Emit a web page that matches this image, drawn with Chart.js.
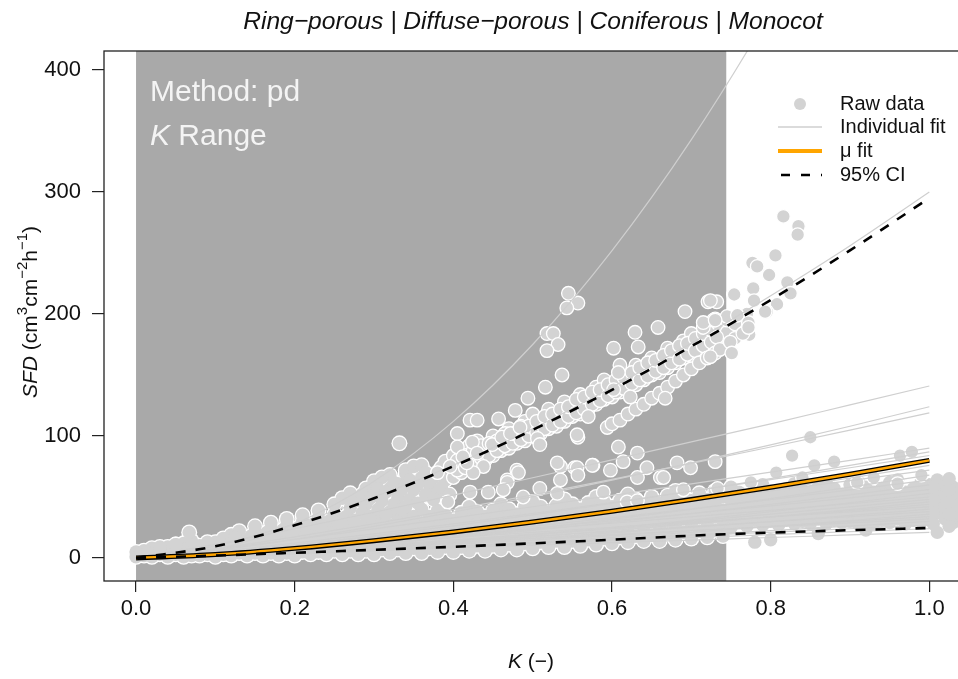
<!DOCTYPE html>
<html><head><meta charset="utf-8">
<script src="https://cdn.jsdelivr.net/npm/chart.js@4"></script>
<style>
html,body{margin:0;padding:0;overflow:hidden;background:#fff;}
#wrap{position:absolute;left:0;top:0;width:980px;height:679px;}
</style></head><body>
<div id="wrap"><canvas id="c" width="980" height="679" style="width:980px;height:679px"></canvas></div>
<script>
// ---------- data ----------
const xTicks = [0, 0.2, 0.4, 0.6, 0.8, 1.0];
const yTicks = [0, 100, 200, 300, 400];
const kRange = [0, 0.744];
const fitK = [0, 0.1, 0.2, 0.3, 0.4, 0.5, 0.6, 0.7, 0.8, 0.9, 1.0];
const muFit = [0, 2.9, 7.9, 14.2, 21.4, 29.5, 38.3, 47.9, 58, 68.7, 80];
const ciUpper = [0, 9.6, 26.8, 49, 75.2, 105, 137.8, 173.5, 211.5, 252.2, 295];
const ciLower = [0, 2, 4.3, 6.7, 9.2, 12, 15, 18.3, 20.8, 22.8, 24.6];
const individualFits = [
 [0,7,28,63,112,175,252,343,448,567,700],
 [0,10,28,50,76,106,140,176,215,256,300],
 [0,11.2,24,37.5,51.5,65.8,80.4,95.2,110,125.5,141],
 [0,6.2,15.3,25.9,37.7,50.3,63.9,78,92.8,108,124],
 [0,7.5,17.3,28.1,39.6,51.8,64.5,77.6,91,104.8,119],
 [0,7.1,15.3,23.9,32.9,42,51.3,60.8,70.4,80.1,90],
 [0,4.4,10.7,18.2,26.4,35.3,44.8,54.7,65.1,75.9,87],
 [0,5.3,12.2,19.8,28,36.5,45.5,54.8,64.3,74,84],
 [0,3,8,14.1,21,28.8,37.2,46.1,55.6,65.6,76],
 [0,4.5,10.4,17,24,31.3,39,46.9,55.1,63.4,72],
 [0,2.1,6.1,11.2,17.2,24.1,31.6,39.8,48.7,58.1,68],
 [0,3.2,7.9,13.4,19.5,26,33,40.3,47.9,55.8,64],
 [0,2.4,6.3,11.1,16.6,22.7,29.3,36.4,43.9,51.8,60],
 [0,3.5,8.1,13.2,18.6,24.4,30.4,36.5,42.8,49.3,56],
 [0,1.7,4.7,8.7,13.4,18.8,24.6,31.1,37.9,45.3,53],
 [0,4,8.5,13.3,18.3,23.4,28.5,33.8,39.1,44.5,50],
 [0,2.4,5.9,10,14.6,19.5,24.7,30.2,35.9,41.9,48],
 [0,1.8,4.8,8.5,12.7,17.4,22.5,27.9,33.7,39.7,46],
 [0,2.8,6.4,10.4,14.7,19.1,23.8,28.7,33.7,38.8,44],
 [0,4.2,8.4,12.6,16.8,21,25.2,29.4,33.6,37.8,42],
 [0,2,4.9,8.4,12.2,16.2,20.6,25.2,29.9,34.9,40],
 [0,3,6.5,10.1,13.9,17.7,21.7,25.7,29.7,33.8,38],
 [0,1.1,3.2,5.9,9.1,12.7,16.7,21.1,25.8,30.7,36],
 [0,2.1,4.9,8,11.3,14.8,18.4,22.2,26,30,34],
 [0,3.2,6.4,9.6,12.8,16,19.2,22.4,25.6,28.8,32],
 [0,1.5,3.7,6.3,9.1,12.2,15.5,18.9,22.4,26.2,30],
 [0,2.1,4.6,7.2,9.9,12.6,15.4,18.2,21.1,24,27],
 [0,2.4,4.8,7.2,9.6,12,14.4,16.8,19.2,21.6,24],
 [0,2.1,4.2,6.3,8.4,10.5,12.6,14.7,16.8,18.9,21]
];
// raw data [K, SFD]
const rawLowerBand = [
 [0,1],[0,5],[0.01,2],[0.01,6],[0.02,1],[0.02,4],[0.02,8],[0.04,1],[0.04,5],[0.04,9],
 [0.06,1],[0.06,4],[0.06,8],[0.06,12],[0.08,2],[0.08,6],[0.08,10],[0.10,1],[0.10,5],[0.10,9],[0.10,13],
 [0.12,2],[0.12,6],[0.12,10],[0.12,15],[0.14,2],[0.14,6],[0.14,11],[0.16,2],[0.16,7],[0.16,12],[0.16,16],
 [0.18,2],[0.18,6],[0.18,11],[0.18,17],[0.20,2],[0.20,7],[0.20,12],[0.20,18],[0.22,3],[0.22,8],[0.22,13],[0.22,19],
 [0.24,3],[0.24,8],[0.24,14],[0.24,21],[0.26,3],[0.26,9],[0.26,15],[0.26,22],[0.28,3],[0.28,9],[0.28,16],[0.28,24],
 [0.30,3],[0.30,10],[0.30,17],[0.30,25],[0.32,4],[0.32,10],[0.32,18],[0.32,27],[0.34,4],[0.34,11],[0.34,19],[0.34,28],[0.34,36],
 [0.36,4],[0.36,12],[0.36,20],[0.36,29],[0.38,5],[0.38,12],[0.38,21],[0.38,30],[0.38,39],[0.40,5],[0.40,13],[0.40,22],[0.40,31],
 [0.42,6],[0.42,14],[0.42,23],[0.42,33],[0.42,42],[0.44,6],[0.44,14],[0.44,24],[0.44,34],[0.46,7],[0.46,15],[0.46,25],[0.46,35],[0.46,44],
 [0.48,7],[0.48,16],[0.48,26],[0.48,36],[0.50,8],[0.50,17],[0.50,27],[0.50,37],[0.50,46],[0.52,9],[0.52,18],[0.52,28],[0.52,38],
 [0.54,9],[0.54,19],[0.54,29],[0.54,39],[0.54,48],[0.56,10],[0.56,20],[0.56,30],[0.56,40],[0.58,11],[0.58,21],[0.58,31],[0.58,41],[0.58,50],
 [0.60,12],[0.60,22],[0.60,32],[0.60,42],[0.62,13],[0.62,23],[0.62,33],[0.62,43],[0.62,52],[0.64,14],[0.64,24],[0.64,34],[0.64,44],
 [0.66,14],[0.66,25],[0.66,35],[0.66,45],[0.68,15],[0.68,26],[0.68,36],[0.68,46],[0.68,55],[0.70,16],[0.70,27],[0.70,37],[0.70,47],
 [0.72,17],[0.72,28],[0.72,38],[0.72,48],[0.74,18],[0.74,29],[0.74,39],[0.74,50],
 [0.76,30],[0.76,38],[0.76,46],[0.76,54],[0.78,13],[0.78,31],[0.78,39],[0.78,47],[0.78,56],[0.80,15],[0.80,30],[0.80,38],[0.80,46],[0.80,55],
 [0.82,31],[0.82,40],[0.82,48],[0.82,57],[0.84,30],[0.84,39],[0.84,47],[0.84,56],[0.86,20],[0.86,32],[0.86,40],[0.86,49],[0.86,58],
 [0.88,31],[0.88,39],[0.88,48],[0.88,57],[0.90,30],[0.90,38],[0.90,46],[0.90,54],[0.90,60],[0.92,23],[0.92,32],[0.92,41],[0.92,50],[0.92,58],
 [0.94,31],[0.94,40],[0.94,48],[0.94,57],[0.96,32],[0.96,41],[0.96,50],[0.96,59],[0.96,64],[0.98,31],[0.98,40],[0.98,49],[0.98,57],
 [1.00,33],[1.00,42],[1.00,51],[1.00,60],[1.01,21],[1.01,37],[1.01,47],[1.01,56],[1.01,64],[1.02,32],[1.02,42],[1.02,52],[1.02,61],
 [1.03,29],[1.03,38],[1.03,48],[1.03,58],[1.04,35],[1.04,45],[1.04,55],[1.05,40],[1.05,50]
];
const rawLowerFill = [
 [0.005,3],[0.015,4],[0.025,6],[0.035,5],[0.045,7],[0.055,6],[0.065,9],[0.075,8],[0.085,5],[0.095,10],
 [0.03,3],[0.03,7],[0.05,3],[0.05,7],[0.05,11],[0.07,2],[0.07,6],[0.07,11],[0.09,3],[0.09,7],[0.09,12],
 [0.11,3],[0.11,7],[0.11,12],[0.13,4],[0.13,8],[0.13,13],[0.13,17],[0.15,4],[0.15,9],[0.15,14],
 [0.17,4],[0.17,9],[0.17,14],[0.17,19],[0.19,4],[0.19,9],[0.19,15],[0.19,20],[0.21,5],[0.21,10],[0.21,15],[0.21,21],
 [0.23,5],[0.23,11],[0.23,17],[0.23,23],[0.25,6],[0.25,12],[0.25,18],[0.25,25],[0.27,6],[0.27,12],[0.27,19],[0.27,27],
 [0.29,6],[0.29,13],[0.29,21],[0.29,29],[0.31,7],[0.31,14],[0.31,22],[0.31,31],[0.33,7],[0.33,15],[0.33,23],[0.33,32],
 [0.35,8],[0.35,16],[0.35,24],[0.35,33],[0.37,8],[0.37,16],[0.37,25],[0.37,34],[0.39,9],[0.39,17],[0.39,26],[0.39,35],
 [0.41,9],[0.41,18],[0.41,27],[0.41,37],[0.43,10],[0.43,19],[0.43,28],[0.43,38],[0.45,10],[0.45,19],[0.45,29],[0.45,39],
 [0.47,11],[0.47,21],[0.47,31],[0.47,40],[0.49,12],[0.49,22],[0.49,32],[0.49,42],[0.51,13],[0.51,23],[0.51,33],[0.51,42],
 [0.53,14],[0.53,24],[0.53,34],[0.53,43],[0.55,14],[0.55,25],[0.55,35],[0.55,44],[0.57,15],[0.57,26],[0.57,36],[0.57,45],
 [0.59,16],[0.59,27],[0.59,37],[0.59,46],[0.61,17],[0.61,28],[0.61,38],[0.61,47],[0.63,18],[0.63,29],[0.63,39],[0.63,48],
 [0.65,19],[0.65,30],[0.65,40],[0.65,50],[0.67,20],[0.67,31],[0.67,41],[0.67,51],[0.69,21],[0.69,32],[0.69,42],[0.69,52],
 [0.71,22],[0.71,33],[0.71,43],[0.71,53],[0.73,23],[0.73,34],[0.73,44],[0.73,55],
 [0.75,25],[0.75,34],[0.75,42],[0.75,50],[0.75,58],[0.77,26],[0.77,35],[0.77,43],[0.77,51],[0.79,27],[0.79,35],[0.79,43],[0.79,51],[0.79,60],
 [0.81,27],[0.81,36],[0.81,44],[0.81,52],[0.83,28],[0.83,35],[0.83,44],[0.83,52],[0.83,61],[0.85,28],[0.85,36],[0.85,45],[0.85,54],
 [0.87,28],[0.87,35],[0.87,44],[0.87,53],[0.87,62],[0.89,29],[0.89,36],[0.89,44],[0.89,52],[0.91,28],[0.91,36],[0.91,45],[0.91,54],[0.91,63],
 [0.93,28],[0.93,36],[0.93,45],[0.93,54],[0.95,29],[0.95,36],[0.95,45],[0.95,54],[0.95,62],[0.97,28],[0.97,36],[0.97,45],[0.97,54],
 [0.99,30],[0.99,37],[0.99,45],[0.99,54],[0.99,63],[1.005,28],[1.005,38],[1.005,48],[1.005,58],
 [1.025,26],[1.025,36],[1.025,46],[1.025,56],[1.025,65],[1.045,30],[1.045,40],[1.045,50],[1.045,60]
];
const rawUpperBlob = [
 [0.03,9],[0.05,11],[0.07,14],[0.067,21],[0.09,13],[0.11,16],[0.12,19],[0.13,22],[0.15,21],[0.15,26],
 [0.17,24],[0.17,29],[0.19,27],[0.19,32],[0.21,30],[0.21,35],[0.23,33],[0.23,39],[0.25,36],[0.25,44],
 [0.26,49],[0.27,41],[0.27,53],[0.28,47],[0.29,57],[0.29,44],[0.30,63],[0.30,51],[0.31,66],[0.31,47],
 [0.32,57],[0.32,68],[0.33,61],[0.332,94],[0.33,50],[0.34,69],[0.34,72],[0.35,56],[0.35,75],[0.36,66],
 [0.36,76],[0.37,60],[0.38,70],[0.38,54],[0.39,64],[0.39,79],[0.30,34],[0.32,38],[0.34,42],[0.36,40],[0.33,30],[0.35,34],
 [0.115,10],[0.125,17],[0.135,13],[0.145,18],[0.155,16],[0.165,21],[0.175,19],[0.185,23],[0.195,21],[0.205,25],
 [0.215,23],[0.225,28],[0.235,26],[0.245,31],[0.255,29],[0.265,34],[0.275,31],[0.275,47],[0.285,37],[0.285,52],
 [0.295,34],[0.295,49],[0.305,40],[0.305,57],[0.315,36],[0.315,54],[0.325,44],[0.325,62],[0.335,40],[0.335,56],
 [0.345,48],[0.345,64],[0.355,45],[0.355,60],[0.365,52],[0.365,70],[0.375,48],[0.375,66],[0.385,58],[0.385,74],
 [0.395,52],[0.395,70]
];
const rawUpperBand = [
 [0.40,76],[0.40,66],[0.40,84],[0.41,78],[0.41,70],[0.41,88],[0.42,82],[0.42,74],[0.42,92],[0.43,86],[0.43,78],[0.43,96],
 [0.44,88],[0.44,80],[0.45,92],[0.45,84],[0.45,100],[0.46,96],[0.46,88],[0.47,98],[0.47,90],[0.47,106],[0.48,100],[0.48,94],
 [0.49,104],[0.49,96],[0.49,112],[0.50,106],[0.50,100],[0.50,118],[0.51,110],[0.51,102],[0.52,112],[0.52,106],[0.52,122],
 [0.53,116],[0.53,108],[0.54,120],[0.54,112],[0.54,128],[0.55,122],[0.55,116],[0.56,126],[0.56,118],[0.56,134],[0.57,130],[0.57,122],
 [0.58,132],[0.58,126],[0.58,140],[0.59,136],[0.59,130],[0.59,146],[0.60,140],[0.60,132],[0.61,142],[0.61,136],[0.61,150],
 [0.62,146],[0.62,140],[0.63,150],[0.63,142],[0.63,158],[0.64,152],[0.64,146],[0.65,156],[0.65,150],[0.65,164],[0.66,160],[0.66,152],
 [0.67,164],[0.67,156],[0.67,172],[0.68,166],[0.68,160],[0.69,170],[0.69,164],[0.69,178],[0.70,174],[0.70,166],[0.70,184],
 [0.71,178],[0.71,170],[0.72,180],[0.72,174],[0.72,190],[0.73,184],[0.73,178],[0.73,196],[0.74,188],[0.74,182],
 [0.75,192],[0.75,186],[0.76,196],[0.76,188],[0.77,200],
 [0.405,72],[0.405,80],[0.415,74],[0.415,84],[0.425,78],[0.425,88],[0.435,82],[0.435,92],[0.445,84],[0.445,94],
 [0.455,88],[0.455,96],[0.465,92],[0.465,102],[0.475,94],[0.475,102],[0.485,97],[0.485,108],[0.495,100],[0.495,108],
 [0.505,103],[0.505,112],[0.515,106],[0.515,116],[0.525,109],[0.525,118],[0.535,112],[0.535,122],[0.545,116],[0.545,124],
 [0.555,119],[0.555,130],[0.565,122],[0.565,132],[0.575,126],[0.575,136],[0.585,129],[0.585,138],[0.595,133],[0.595,142],
 [0.605,136],[0.605,146],[0.615,139],[0.615,148],[0.625,143],[0.625,152],[0.635,146],[0.635,156],[0.645,149],[0.645,160],
 [0.655,153],[0.655,162],[0.665,156],[0.665,166],[0.675,160],[0.675,170],[0.685,163],[0.685,174],[0.695,167],[0.695,176],
 [0.705,170],[0.705,180],[0.715,174],[0.715,184],[0.725,177],[0.725,187],[0.735,181],[0.735,191],[0.745,185],[0.745,195],[0.755,180],[0.755,192]
];
const rawLowerArm = [
 [0.594,107],[0.60,110],[0.61,113],[0.62,118],[0.63,122],[0.64,126],[0.65,131],[0.66,135],
 [0.67,140],[0.68,145],[0.69,150],[0.70,155],[0.71,160],[0.72,164],[0.73,168],[0.745,173]
];
const rawScatter = [
 [0.545,217],[0.557,209],[0.543,205],[0.518,184],[0.526,184],[0.532,175],[0.518,170],[0.537,150],[0.516,140],
 [0.494,131],[0.478,121],[0.457,114],[0.421,113],[0.43,113],[0.405,102],
 [0.602,172],[0.629,185],[0.633,173],[0.658,189],[0.692,202],[0.721,210],[0.732,210],[0.61,158],[0.608,152],
 [0.623,132],[0.602,138],[0.667,131],[0.57,116],[0.557,99],[0.608,91],[0.632,86],[0.576,76],[0.535,75],[0.553,74],
 [0.598,72],[0.614,79],[0.644,74],[0.682,78],[0.699,74],[0.73,79],[0.661,66],[0.48,72],[0.468,64],[0.531,78],
 [0.405,91],[0.424,95],[0.449,93],[0.461,99],[0.472,102],[0.484,107],[0.506,98],[0.509,93],[0.556,101],[0.556,74],
 [0.557,68],[0.575,76],[0.632,66],[0.665,66],[0.69,56],[0.589,54],[0.535,64],[0.509,57],[0.468,62],[0.482,70],
 [0.463,56],[0.444,54],[0.421,54],[0.393,46],[0.488,50],[0.531,53],[0.733,57],[0.619,46],[0.632,47],[0.438,75],
 [0.425,70],[0.417,78],[0.396,75],[0.38,70],[0.43,86],[0.412,83],
 [0.715,189],[0.728,195],[0.745,198],[0.732,181],[0.736,171],[0.724,165],[0.724,211],[0.715,193],[0.73,195]
];
const rawRightUpper = [
 [0.816,280],[0.835,272],[0.834,265],[0.806,248],[0.777,242],[0.783,239],[0.798,232],[0.821,226],[0.778,221],
 [0.753,216],[0.825,217],[0.779,211],[0.808,208],[0.795,202],[0.758,199],[0.772,193],[0.773,183],[0.749,177],
 [0.765,184],[0.772,189],[0.793,202],[0.751,168],[0.754,216]
];
const rawRightMid = [
 [0.807,70],[0.827,84],[0.85,99],[0.855,76],[0.88,79],[0.963,84],[0.978,87],[0.96,61],[0.909,62],[0.93,66],
 [0.84,66],[0.99,68],[0.775,62]
];

// ---------- chart ----------
const FONT = '"Liberation Sans", Arial, Helvetica, sans-serif';
const toXY = ys => fitK.map((k, i) => ({x: k, y: ys[i]}));
const asXY = arr => arr.map(([k, s]) => ({x: k, y: s}));
const rawDense = asXY([].concat(rawLowerBand, rawLowerFill, rawUpperBlob));
const rawSparse = asXY([].concat(rawUpperBand, rawLowerArm, rawScatter, rawRightUpper, rawRightMid));

const lineBase = {showLine: true, pointRadius: 0, pointHoverRadius: 0, cubicInterpolationMode: 'monotone', fill: false};
const datasets = [
  Object.assign({label: 'ciUpper', data: toXY(ciUpper), borderColor: '#000', borderWidth: 2.6, borderDash: [10, 10], order: 0}, lineBase),
  Object.assign({label: 'ciLower', data: toXY(ciLower), borderColor: '#000', borderWidth: 2.6, borderDash: [10, 10], order: 0}, lineBase),
  Object.assign({label: 'muOrange', data: toXY(muFit), borderColor: '#FFA500', borderWidth: 2.4, order: 1}, lineBase),
  Object.assign({label: 'muBlack', data: toXY(muFit), borderColor: '#000', borderWidth: 5, order: 2}, lineBase)
];
individualFits.forEach((f, i) => datasets.push(Object.assign({label: 'fit' + i, data: toXY(f), borderColor: '#cfcfcf', borderWidth: 1.2, order: 3}, lineBase)));
// sparse raw points: each with its own white outline
datasets.push({label: 'rawSparse', data: rawSparse, showLine: false, pointRadius: 6.8, pointHoverRadius: 6.8,
  backgroundColor: '#d3d3d3', borderColor: '#ffffff', borderWidth: 1.3, order: 9});
// dense raw points: lightgray fill on top of a white halo layer
datasets.push({label: 'rawDense', data: rawDense, showLine: false, pointRadius: 6.7, pointHoverRadius: 6.7,
  backgroundColor: '#d3d3d3', borderWidth: 0, order: 10});
datasets.push({label: 'rawDenseHalo', data: rawDense, showLine: false, pointRadius: 8.0, pointHoverRadius: 8.0,
  backgroundColor: '#ffffff', borderWidth: 0, order: 11});

const decor = {
  id: 'decor',
  beforeDatasetsDraw(chart) {
    const {ctx, chartArea: a, scales: {x}} = chart;
    const x0 = x.getPixelForValue(kRange[0]), x1 = x.getPixelForValue(kRange[1]);
    ctx.save();
    ctx.fillStyle = '#a9a9a9';
    ctx.fillRect(x0, a.top, x1 - x0, a.bottom - a.top);
    ctx.fillStyle = '#f4f4f4';
    ctx.textBaseline = 'middle';
    ctx.textAlign = 'left';
    ctx.font = '30px ' + FONT;
    ctx.fillText('Method: pd', 150, 93);
    ctx.font = 'italic 30px ' + FONT;
    ctx.fillText('K', 150, 137);
    const kw = ctx.measureText('K').width;
    ctx.font = '30px ' + FONT;
    ctx.fillText(' Range', 150 + kw, 137);
    ctx.restore();
  },
  afterDraw(chart) {
    const {ctx, chartArea: a} = chart;
    ctx.save();
    ctx.strokeStyle = '#222';
    ctx.lineWidth = 1.3;
    ctx.strokeRect(a.left, a.top, a.right - a.left, a.bottom - a.top);
    ctx.fillStyle = '#111';
    ctx.textBaseline = 'middle';
    ctx.textAlign = 'center';
    ctx.font = 'italic 24.6px ' + FONT;
    ctx.fillText('Ring\u2212porous | Diffuse\u2212porous | Coniferous | Monocot', 533, 22);
    ctx.font = 'italic 21px ' + FONT;
    const kW = ctx.measureText('K').width;
    ctx.font = '21px ' + FONT;
    const restW = ctx.measureText(' (\u2212)').width;
    let sx = 531 - (kW + restW) / 2;
    ctx.textAlign = 'left';
    ctx.font = 'italic 21px ' + FONT;
    ctx.fillText('K', sx, 662);
    ctx.font = '21px ' + FONT;
    ctx.fillText(' (\u2212)', sx + kW, 662);
    const parts = [['SFD', 'i'], [' (cm', 'n'], ['3', 's'], ['cm', 'n'], ['\u22122', 's'], ['h', 'n'], ['\u22121', 's'], [')', 'n']];
    const fs = 21;
    const fontFor = t => t === 'i' ? 'italic ' + fs + 'px ' + FONT : (t === 's' ? Math.round(fs * 0.72) + 'px ' + FONT : fs + 'px ' + FONT);
    let total = 0;
    parts.forEach(p => { ctx.font = fontFor(p[1]); total += ctx.measureText(p[0]).width; });
    ctx.translate(31, 312);
    ctx.rotate(-Math.PI / 2);
    let px = -total / 2;
    parts.forEach(p => {
      ctx.font = fontFor(p[1]);
      ctx.fillText(p[0], px, p[1] === 's' ? -8 : 0);
      px += ctx.measureText(p[0]).width;
    });
    ctx.setTransform(1, 0, 0, 1, 0, 0);
    const lx0 = 778, lx1 = 822, tx = 840;
    const rows = [104, 127, 151, 175];
    ctx.fillStyle = '#d3d3d3';
    ctx.beginPath(); ctx.arc(800, rows[0], 6, 0, Math.PI * 2); ctx.fill();
    ctx.strokeStyle = '#cfcfcf'; ctx.lineWidth = 1.3;
    ctx.beginPath(); ctx.moveTo(lx0, rows[1]); ctx.lineTo(lx1, rows[1]); ctx.stroke();
    ctx.strokeStyle = '#FFA500'; ctx.lineWidth = 4;
    ctx.beginPath(); ctx.moveTo(lx0, rows[2]); ctx.lineTo(lx1, rows[2]); ctx.stroke();
    ctx.strokeStyle = '#000'; ctx.lineWidth = 2.6; ctx.setLineDash([9, 11]);
    ctx.beginPath(); ctx.moveTo(lx0 + 3, rows[3]); ctx.lineTo(lx1, rows[3]); ctx.stroke();
    ctx.setLineDash([]);
    ctx.fillStyle = '#111';
    ctx.font = '20px ' + FONT;
    ctx.textAlign = 'left';
    ['Raw data', 'Individual fit', '\u03bc fit', '95% CI'].forEach((t, i) => ctx.fillText(t, tx, rows[i]));
    ctx.restore();
  }
};

new Chart(document.getElementById('c'), {
  type: 'scatter',
  data: {datasets},
  options: {
    responsive: false, animation: false, events: [],
    layout: {padding: {top: 51, right: 11, left: 0, bottom: 0}},
    plugins: {legend: {display: false}, tooltip: {enabled: false}, title: {display: false}},
    scales: {
      x: {
        type: 'linear', min: -0.0404, max: 1.05,
        afterBuildTicks: s => { s.ticks = xTicks.map(v => ({value: v})); },
        afterFit: s => { s.height = 98; },
        ticks: {callback: v => Number(v).toFixed(1), font: {family: FONT, size: 22}, color: '#111', padding: 4, maxRotation: 0, autoSkip: false},
        grid: {display: true, drawOnChartArea: false, drawTicks: true, tickLength: 11, color: '#222', lineWidth: 1.2},
        border: {display: false}
      },
      y: {
        type: 'linear', min: -18.85, max: 415.6,
        afterBuildTicks: s => { s.ticks = yTicks.map(v => ({value: v})); },
        afterFit: s => { s.width = 104; },
        ticks: {callback: v => String(v), font: {family: FONT, size: 22}, color: '#111', padding: 11, autoSkip: false},
        grid: {display: true, drawOnChartArea: false, drawTicks: true, tickLength: 12, color: '#222', lineWidth: 1.2},
        border: {display: false}
      }
    }
  },
  plugins: [decor]
});
</script>
</body></html>
